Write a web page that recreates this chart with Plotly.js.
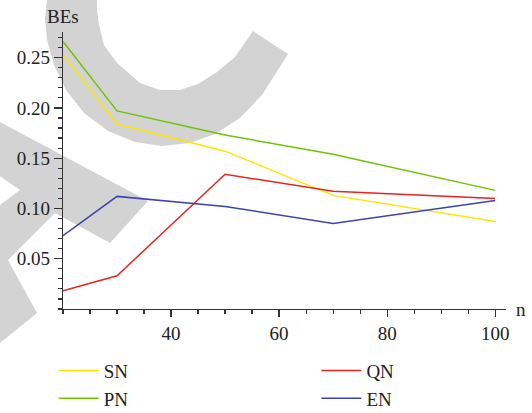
<!DOCTYPE html>
<html>
<head>
<meta charset="utf-8">
<script src="https://cdn.plot.ly/plotly-3.0.1.min.js"></script>
<style>
html,body{margin:0;padding:0;background:#fff;}
#wrap{position:relative;width:532px;height:413px;overflow:hidden;}
#wm{position:absolute;left:0;top:0;z-index:0;}
#chart{position:absolute;left:0;top:0;width:532px;height:413px;z-index:1;}
</style>
</head>
<body>
<div id="wrap">
<svg id="wm" width="532" height="413" viewBox="0 0 532 413">
  <path fill="#d3d3d3" d="M47,0 L45,18 L47,40 L54,65 L66,90 L84,113 L108,131 L135,142 L162,146 L190,143 L215,134 L240,118 L262,95 L288,54 L253,31 L235,57 L217,72 L198,84 L180,90 L160,90 L140,83 L117,63 L104,45 L99,25 L97,10 L97,0 Z"/>
  <path fill="#d3d3d3" d="M0,122 L148,201 L110,243 L55,213 L8,260 L37,313 L0,343 L0,205 L20,190 L0,176 Z"/>
</svg>
<div id="chart"></div>
</div>
<script>
var nValues = [20, 30, 50, 70, 100];
var seriesNames = ["SN", "PN", "QN", "EN"];
var SN = [0.253, 0.184, 0.157, 0.113, 0.087];
var QN = [0.018, 0.033, 0.134, 0.117, 0.110];
var PN = [0.266, 0.197, 0.173, 0.154, 0.118];
var EN = [0.073, 0.112, 0.102, 0.085, 0.108];
var xTickVals = [40, 60, 80, 100];
var yTickVals = [0.05, 0.10, 0.15, 0.20, 0.25];

var colors = {SN: "#ffe500", QN: "#e8241c", PN: "#70c400", EN: "#3c44b0"};
var dataMap = {SN: SN, QN: QN, PN: PN, EN: EN};
var legendOf = {SN: "legend", PN: "legend", QN: "legend2", EN: "legend2"};

var traces = seriesNames.map(function (name) {
  return {
    x: nValues, y: dataMap[name], name: name, type: "scatter", mode: "lines",
    line: {color: colors[name], width: 1.5}, legend: legendOf[name]
  };
});

var font = {family: "Liberation Serif, Times New Roman, serif", size: 19, color: "#222"};
var axisCommon = {
  showline: true, linecolor: "#333", linewidth: 1.3, showgrid: false, zeroline: false,
  ticks: "outside", tickcolor: "#333", tickwidth: 1.3, ticklen: 7, tickfont: font
};
var legendCommon = {
  orientation: "v", xanchor: "left", y: -0.154, yanchor: "top", itemwidth: 40,
  font: font, bgcolor: "rgba(0,0,0,0)", tracegroupgap: 0, traceorder: "normal"
};

var layout = {
  width: 532, height: 413,
  margin: {l: 63, r: 26, t: 32, b: 104, autoexpand: false},
  paper_bgcolor: "rgba(0,0,0,0)", plot_bgcolor: "rgba(0,0,0,0)",
  font: font,
  showlegend: true,
  xaxis: Object.assign({}, axisCommon, {
    range: [20, 102], tickvals: xTickVals,
    minor: {dtick: 5, tick0: 0, ticks: "outside", ticklen: 4, tickcolor: "#333", tickwidth: 1.2}
  }),
  yaxis: Object.assign({}, axisCommon, {
    range: [0, 0.2755], tickvals: yTickVals, tickformat: ".2f", ticklen: 8,
    minor: {dtick: 0.01, tick0: 0, ticks: "outside", ticklen: 4, tickcolor: "#333", tickwidth: 1.2}
  }),
  legend: Object.assign({}, legendCommon, {x: -0.021}),
  legend2: Object.assign({}, legendCommon, {x: 0.572}),
  annotations: [
    {text: "BEs", xref: "paper", yref: "paper", x: 0, y: 1, xanchor: "center", yanchor: "bottom",
     yshift: 3, showarrow: false, font: font},
    {text: "n", xref: "paper", yref: "paper", x: 1, y: 0, xanchor: "left", yanchor: "middle",
     xshift: 8, showarrow: false, font: font}
  ]
};

Plotly.newPlot("chart", traces, layout, {displayModeBar: false, staticPlot: true});
</script>
</body>
</html>
